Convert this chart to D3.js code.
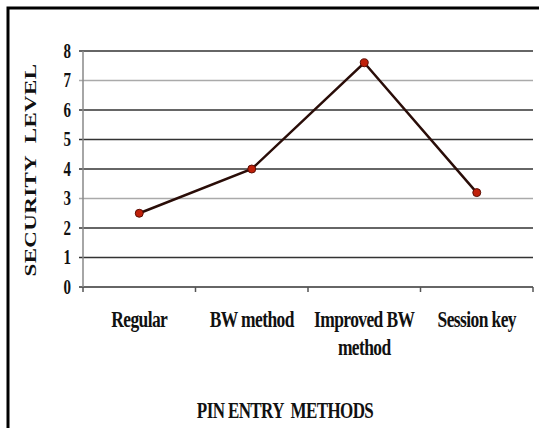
<!DOCTYPE html>
<meta charset="utf-8">
<style>
    body { margin: 0; background: #fff; }
    text { font-family: "Liberation Serif", "Times New Roman", serif; font-weight: bold; fill: #111; }
</style>
<svg width="539" height="428"></svg>
<script src="https://d3js.org/d3.v7.min.js"></script>
<script>

    var categories = ["Regular", "BW method", "Improved BW method", "Session key"];
    var levels = [2.5, 4, 7.6, 3.2];
    var yTicks = [0, 1, 2, 3, 4, 5, 6, 7, 8];
    var grayLines = [3, 7];

    var svg = d3.select("svg"),
        plotLeft = 83, plotRight = 533, plotTop = 51, plotBottom = 287,
        stretch = 1.35;   // the original text is tall and narrow

    // frame (only top + left visible in the original crop)
    svg.append("path")
        .attr("d", "M8,428 V8 H539")
        .attr("fill", "none")
        .attr("stroke", "#000")
        .attr("stroke-width", 3);

    var x = d3.scaleBand().domain(categories).range([plotLeft, plotRight]);
    var y = d3.scaleLinear().domain([0, 8]).range([plotBottom, plotTop]);

    // gridlines
    svg.append("g").selectAll("line")
        .data(yTicks)
        .enter().append("line")
        .attr("x1", plotLeft - 4)
        .attr("x2", plotRight)
        .attr("y1", function (d) { return y(d); })
        .attr("y2", function (d) { return y(d); })
        .attr("stroke", function (d) { return grayLines.indexOf(d) >= 0 ? "#aaa" : "#333"; })
        .attr("stroke-width", 1.6);

    // y axis line
    svg.append("line")
        .attr("x1", plotLeft).attr("x2", plotLeft)
        .attr("y1", plotTop).attr("y2", plotBottom)
        .attr("stroke", "#888").attr("stroke-width", 1.5);

    // y tick labels
    svg.append("g").selectAll("text")
        .data(yTicks)
        .enter().append("text")
        .attr("transform", function (d) {
            return "translate(71," + (y(d) + 6.5) + ") scale(1," + stretch + ")";
        })
        .attr("text-anchor", "end")
        .style("font-size", "15px")
        .text(function (d) { return d; });

    // x ticks at band edges
    var edges = categories.map(function (c) { return x(c); }).concat([plotRight]);
    svg.append("g").selectAll("line")
        .data(edges)
        .enter().append("line")
        .attr("x1", function (d) { return d; })
        .attr("x2", function (d) { return d; })
        .attr("y1", plotBottom)
        .attr("y2", plotBottom + 5)
        .attr("stroke", "#555").attr("stroke-width", 1.5);

    // x category labels
    svg.append("g").selectAll("g")
        .data(categories)
        .enter().append("g")
        .each(function (d) {
            var g = d3.select(this);
            var cx = x(d) + x.bandwidth() / 2;
            var lines = d === "Improved BW method" ? ["Improved BW", "method"] : [d];
            lines.forEach(function (s, i) {
                g.append("text")
                    .attr("transform", "translate(" + cx + "," + (327 + i * 28) + ") scale(1," + stretch + ")")
                    .attr("text-anchor", "middle")
                    .style("font-size", "17.5px")
                    .style("letter-spacing", "-0.6px")
                    .text(s);
            });
        });

    // line
    var line = d3.line()
        .x(function (d, i) { return x(categories[i]) + x.bandwidth() / 2; })
        .y(function (d) { return y(d); });

    svg.append("path")
        .datum(levels)
        .attr("d", line)
        .attr("fill", "none")
        .attr("stroke", "#2a0d08")
        .attr("stroke-width", 2.5);

    svg.append("g").selectAll("circle")
        .data(levels)
        .enter().append("circle")
        .attr("cx", function (d, i) { return x(categories[i]) + x.bandwidth() / 2; })
        .attr("cy", function (d) { return y(d); })
        .attr("r", 4)
        .attr("fill", "#c0200a")
        .attr("stroke", "#5a0e05")
        .attr("stroke-width", 1);

    // axis titles
    svg.append("text")
        .attr("transform", "translate(285,418) scale(1,1.3)")
        .attr("text-anchor", "middle")
        .style("font-size", "17px")
        .style("letter-spacing", "-0.6px")
        .style("white-space", "pre")
        .text("PIN ENTRY  METHODS");

    svg.append("text")
        .attr("transform", "translate(36,170) rotate(-90) scale(1.35,1)")
        .attr("text-anchor", "middle")
        .style("font-size", "17px")
        .style("letter-spacing", "0.3px")
        .style("white-space", "pre")
        .text("SECURITY  LEVEL");
</script>
